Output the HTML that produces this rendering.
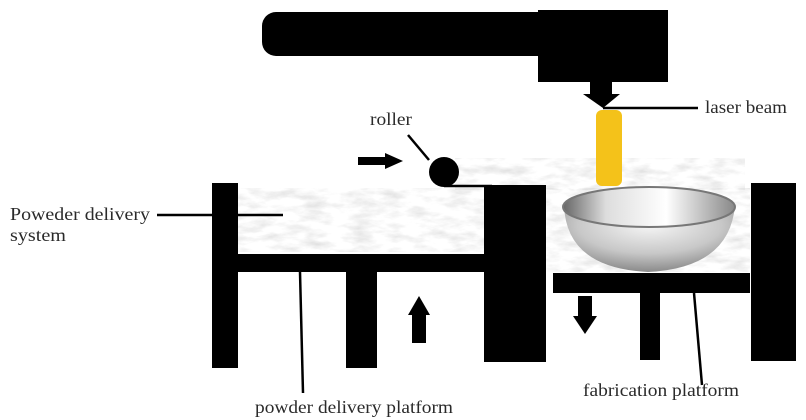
<!DOCTYPE html>
<html><head><meta charset="utf-8"><style>
html,body{margin:0;padding:0;background:#fff;width:806px;height:420px;overflow:hidden}
svg{display:block}
</style></head><body>
<svg width="806" height="420" viewBox="0 0 806 420" xmlns="http://www.w3.org/2000/svg">
<defs>
<filter id="n" x="0" y="0" width="1" height="1">
<feTurbulence type="fractalNoise" baseFrequency="0.04 0.12" numOctaves="4" seed="5"/>
<feColorMatrix values="0 0 0 0 0.7  0 0 0 0 0.7  0 0 0 0 0.7  0 0 0 1.6 -0.65"/>
<feComposite in2="SourceGraphic" operator="in"/>
</filter>
<radialGradient id="bw" cx="0.5" cy="0.3" r="0.7">
<stop offset="0" stop-color="#f6f6f6"/><stop offset="0.6" stop-color="#c8c8c8"/><stop offset="1" stop-color="#8a8a8a"/>
</radialGradient>
<linearGradient id="bi" x1="0" y1="0" x2="1" y2="0">
<stop offset="0" stop-color="#666"/><stop offset="0.25" stop-color="#ddd"/><stop offset="0.6" stop-color="#fff"/><stop offset="1" stop-color="#888"/>
</linearGradient>
</defs>
<rect x="238" y="188" width="246" height="64" fill="#ddd" filter="url(#n)"/>
<rect x="455" y="158" width="290" height="32" fill="#ddd" filter="url(#n)"/>
<rect x="546" y="188" width="204" height="84" fill="#ddd" filter="url(#n)"/>
<rect x="262" y="12" width="290" height="44" rx="14" fill="#000"/>
<rect x="538" y="10" width="130" height="72" fill="#000"/>
<rect x="590" y="80" width="22" height="16" fill="#000"/>
<polygon points="583,94 620,94 603,108" fill="#000"/>
<rect x="596" y="110" width="26" height="76" rx="6" fill="#f4c21a"/>
<line x1="603" y1="108" x2="698" y2="108" stroke="#000" stroke-width="2.5"/>
<g font-family="'Liberation Serif','DejaVu Serif','Times New Roman',serif" font-size="18" fill="#2a2a2a">
<text x="705" y="113" textLength="82" lengthAdjust="spacingAndGlyphs">laser beam</text>
<text x="370" y="125" textLength="42" lengthAdjust="spacingAndGlyphs">roller</text>
<text x="10" y="220" textLength="140" lengthAdjust="spacingAndGlyphs">Poweder delivery</text>
<text x="10" y="241" textLength="56" lengthAdjust="spacingAndGlyphs">system</text>
<text x="255" y="413" textLength="198" lengthAdjust="spacingAndGlyphs">powder delivery platform</text>
<text x="583" y="396" textLength="156" lengthAdjust="spacingAndGlyphs">fabrication platform</text>
</g>
<line x1="408" y1="135" x2="429" y2="160" stroke="#000" stroke-width="2.5"/>
<circle cx="444" cy="172" r="15" fill="#000"/>
<line x1="444" y1="186" x2="492" y2="186" stroke="#000" stroke-width="2.5"/>
<rect x="358" y="157" width="28" height="8" fill="#000"/>
<polygon points="385,153 403,161 385,169" fill="#000"/>
<rect x="212" y="183" width="26" height="185" fill="#000"/>
<rect x="238" y="254" width="248" height="18" fill="#000"/>
<rect x="346" y="272" width="31" height="96" fill="#000"/>
<rect x="484" y="185" width="62" height="177" fill="#000"/>
<rect x="412" y="313" width="14" height="30" fill="#000"/>
<polygon points="408,315 419,296 430,315" fill="#000"/>
<path d="M564,205 Q566,268 648,272 Q730,268 735,205 Z" fill="url(#bw)"/>
<ellipse cx="649" cy="207" rx="86" ry="20" fill="url(#bi)" stroke="#777" stroke-width="2"/>
<rect x="553" y="273" width="197" height="20" fill="#000"/>
<rect x="640" y="293" width="20" height="67" fill="#000"/>
<rect x="751" y="183" width="45" height="178" fill="#000"/>
<rect x="578" y="296" width="14" height="22" fill="#000"/>
<polygon points="573,316 597,316 585,334" fill="#000"/>
<line x1="157" y1="215" x2="283" y2="215" stroke="#000" stroke-width="2.5"/>
<line x1="300" y1="272" x2="303" y2="393" stroke="#000" stroke-width="2.5"/>
<line x1="694" y1="293" x2="702" y2="385" stroke="#000" stroke-width="2.5"/>
</svg>
</body></html>
